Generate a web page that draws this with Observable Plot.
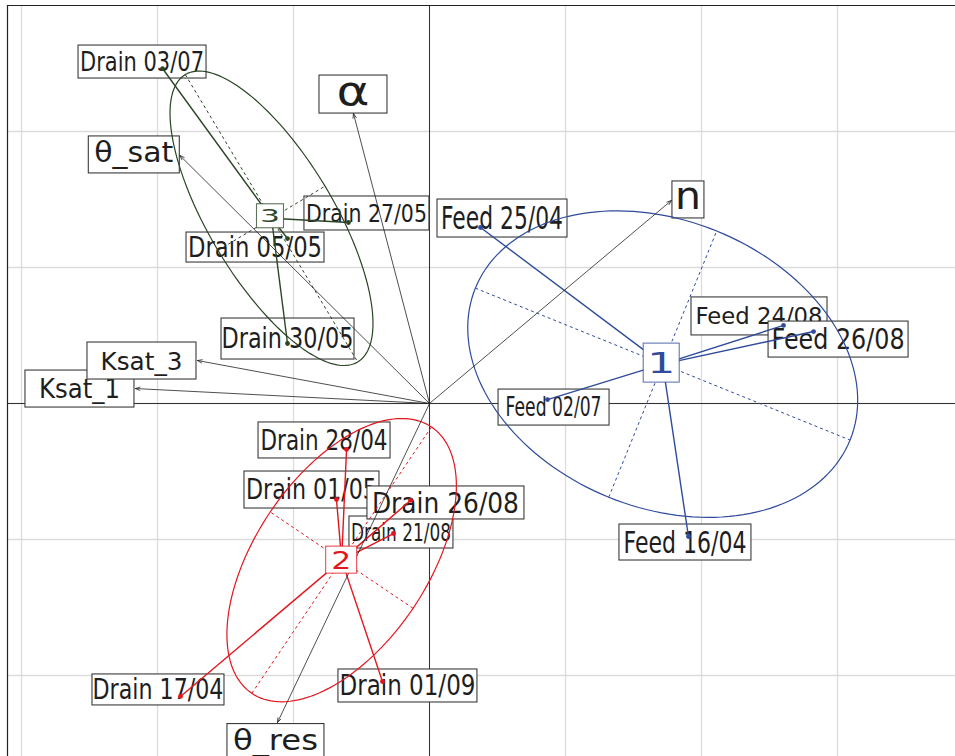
<!DOCTYPE html>
<html>
<head>
<meta charset="utf-8">
<script src="https://cdn.jsdelivr.net/npm/d3@7"></script>
<script src="https://cdn.jsdelivr.net/npm/@observablehq/plot@0.6"></script>
<style>
  html, body { margin: 0; padding: 0; background: #fff; overflow: hidden; }
  #chart svg { display: block; }
</style>
</head>
<body>
<div id="chart"></div>
<script>
// ---------------- data ----------------
const groups = ["1", "2", "3"];
const groupColors = ["#2f4b9b", "#e3161e", "#2b4526"];

const obsLabels = [
  "Feed 16/04", "Feed 25/04", "Feed 02/07", "Feed 24/08", "Feed 26/08",
  "Drain 17/04", "Drain 28/04", "Drain 01/05", "Drain 21/08", "Drain 26/08", "Drain 01/09",
  "Drain 05/05", "Drain 27/05", "Drain 30/05", "Drain 03/07"
];
const obsGroup = ["1", "1", "1", "1", "1", "2", "2", "2", "2", "2", "2", "3", "3", "3", "3"];
const obsX = [1.904, 0.375, 0.868, 2.603, 2.824, -1.831, -0.610, -0.684, -0.265, -0.140, -0.346, -1.044, -0.596, -1.044, -1.963];
const obsY = [-0.978, 1.294, 0.029, 0.574, 0.529, -2.154, -0.338, -0.706, -0.956, -0.713, -2.044, 1.213, 1.331, 0.441, 2.463];

const varLabels = ["Ksat_1", "Ksat_3", "θ_sat", "θ_res", "α", "n"];
const varX = [-2.162, -1.706, -1.836, -1.118, -0.559, 1.779];
const varY = [0.110, 0.316, 1.824, -2.346, 2.132, 1.493];

const gridX = [-3, -2, -1, 0, 1, 2, 3];
const gridY = [-2, -1, 0, 1, 2];

// ---------------- layout / style (pixels) ----------------
// label: [dx, dy, boxWidth, boxHeight, fontSize, textLength]
const labelLayout = {
  "Feed 16/04": [-3, 6, 132, 36, 30, 123],
  "Feed 25/04": [22, -9, 130, 38, 31.5, 122],
  "Feed 02/07": [6.5, 8, 111, 36, 26, 96],
  "Feed 24/08": [-24, -9, 136, 38, 23, 127],
  "Feed 26/08": [25, 8, 140, 36, 27.5, 133],
  "Drain 17/04": [-22, -6.5, 132, 31, 27.5, 131],
  "Drain 28/04": [-22, -9, 132, 36, 27.5, 127],
  "Drain 01/05": [-24.5, -9.5, 135, 37, 27.5, 131],
  "Drain 21/08": [8, -1, 104, 32, 25, 100],
  "Drain 26/08": [35.5, 2.5, 157, 33, 29, 147],
  "Drain 01/09": [25.5, 4.5, 139, 33, 27.5, 136],
  "Drain 05/05": [-32, 9, 138, 30, 27.5, 134],
  "Drain 27/05": [18.5, -9, 125, 34, 25, 121],
  "Drain 30/05": [0.5, -4.5, 133, 41, 27.5, 132],
  "Drain 03/07": [-20, -6.5, 128, 33, 26, 124],
  "Ksat_1": [-55.5, 0.5, 109, 37, 26, 81],
  "Ksat_3": [-55.5, 0.5, 109, 37, 25.5, 82],
  "θ_sat": [-45.5, -0.5, 91, 37, 29, 79],
  "θ_res": [-1.5, 20, 97, 37, 29, 85],
  "α": [0, -19, 68, 38, 40, 33],
  "n": [17, -0.5, 32, 37, 37, 26],
  "1": [-1, -1, 36, 39, 29, 28],
  "2": [0, 0, 31, 27, 25, 20],
  "3": [-1, -2, 27, 24, 18, 20]
};

const unitPx = 136;          // one grid step in pixels
const originPx = [429, 403]; // where (0,0) sits
const W = 955, H = 756, mL = 7, mT = 5;
const xDomain = [-(originPx[0] - mL) / unitPx, (W - originPx[0]) / unitPx];
const yDomain = [-(H - originPx[1]) / unitPx, (originPx[1] - mT) / unitPx];

// ---------------- derived ----------------
const colorOf = Object.fromEntries(groups.map((g, i) => [g, groupColors[i]]));
const obs = obsLabels.map((label, i) => ({label, group: obsGroup[i], x: obsX[i], y: obsY[i]}));
const vars = varLabels.map((label, i) => ({label, x: varX[i], y: varY[i]}));

const cEll = 1.5;
const stats = groups.map(g => {
  const pts = obs.filter(d => d.group === g);
  const mx = d3.mean(pts, d => d.x), my = d3.mean(pts, d => d.y);
  const vx = d3.mean(pts, d => (d.x - mx) ** 2);
  const vy = d3.mean(pts, d => (d.y - my) ** 2);
  const cxy = d3.mean(pts, d => (d.x - mx) * (d.y - my));
  const tr = (vx + vy) / 2, disc = Math.sqrt(((vx - vy) / 2) ** 2 + cxy ** 2);
  const a = cEll * Math.sqrt(tr + disc), b = cEll * Math.sqrt(Math.max(0, tr - disc));
  const th = 0.5 * Math.atan2(2 * cxy, vx - vy);
  return {group: g, x: mx, y: my, a, b, th};
});
const statOf = Object.fromEntries(stats.map(s => [s.group, s]));

const ellipsePts = [];
for (const s of stats) {
  const N = 160;
  for (let k = 0; k < N; k++) {
    const t = 2 * Math.PI * k / N;
    ellipsePts.push({
      group: s.group,
      x: s.x + s.a * Math.cos(t) * Math.cos(s.th) - s.b * Math.sin(t) * Math.sin(s.th),
      y: s.y + s.a * Math.cos(t) * Math.sin(s.th) + s.b * Math.sin(t) * Math.cos(s.th)
    });
  }
}
const ellAxes = stats.flatMap(s => [
  {group: s.group, x1: s.x - s.a * Math.cos(s.th), y1: s.y - s.a * Math.sin(s.th), x2: s.x + s.a * Math.cos(s.th), y2: s.y + s.a * Math.sin(s.th)},
  {group: s.group, x1: s.x + s.b * Math.sin(s.th), y1: s.y - s.b * Math.cos(s.th), x2: s.x - s.b * Math.sin(s.th), y2: s.y + s.b * Math.cos(s.th)}
]);
const stars = obs.map(d => ({group: d.group, x1: statOf[d.group].x, y1: statOf[d.group].y, x2: d.x, y2: d.y}));

// custom mark: boxed labels positioned through Plot's scales
function boxedLabels(items) {
  return (index, scales) => {
    const g = d3.create("svg:g").attr("font-family", "'DejaVu Sans', sans-serif");
    for (const d of items) {
      const L = labelLayout[d.label];
      const cx = scales.x(d.x) + L[0], cy = scales.y(d.y) + L[1];
      g.append("rect")
        .attr("x", cx - L[2] / 2).attr("y", cy - L[3] / 2)
        .attr("width", L[2]).attr("height", L[3])
        .attr("fill", "white")
        .attr("stroke", d.stroke || "#3a3a3a")
        .attr("stroke-opacity", d.strokeOpacity ?? 1)
        .attr("stroke-width", 1.1);
      const k = /[A-Z0-9]/.test(d.label) ? 0.36 : (d.label.includes("θ") ? 0.27 : 0.27);
      g.append("text")
        .attr("x", cx).attr("y", cy + k * L[4])
        .attr("text-anchor", "middle")
        .attr("font-size", L[4])
        .attr("textLength", L[5])
        .attr("lengthAdjust", "spacingAndGlyphs")
        .attr("fill", d.fill || "#1e1e1e")
        .text(d.label);
    }
    return g.node();
  };
}

const centerItems = stats.map(s => ({label: s.group, x: s.x, y: s.y, stroke: colorOf[s.group], strokeOpacity: 0.75, fill: colorOf[s.group]}));

const chart = Plot.plot({
  width: W, height: H,
  marginLeft: mL, marginTop: mT, marginRight: 0, marginBottom: 0,
  x: {domain: xDomain, axis: null},
  y: {domain: yDomain, axis: null},
  color: {domain: groups, range: groupColors},
  style: {fontFamily: "'DejaVu Sans', sans-serif", background: "white", overflow: "hidden"},
  marks: [
    Plot.ruleX(gridX, {stroke: "#dcdcdc", strokeWidth: 1.3}),
    Plot.ruleY(gridY, {stroke: "#dcdcdc", strokeWidth: 1.3}),
    Plot.ruleX([0], {stroke: "#333", strokeWidth: 1}),
    Plot.ruleY([0], {stroke: "#333", strokeWidth: 1}),
    Plot.ruleX([xDomain[0]], {stroke: "#222", strokeWidth: 1.2}),
    Plot.ruleY([yDomain[1]], {stroke: "#222", strokeWidth: 1.2}),
    boxedLabels(obs),
    boxedLabels(vars),
    Plot.link(ellAxes, {x1: "x1", y1: "y1", x2: "x2", y2: "y2", stroke: "group", strokeWidth: 1, strokeDasharray: "3,3"}),
    Plot.line(ellipsePts, {x: "x", y: "y", z: "group", stroke: "group", strokeWidth: 1.2, curve: "linear-closed"}),
    Plot.link(stars, {x1: "x1", y1: "y1", x2: "x2", y2: "y2", stroke: "group", strokeWidth: 1.4}),
    Plot.arrow(vars, {x1: 0, y1: 0, x2: "x", y2: "y", stroke: "#222", strokeWidth: 0.8, headLength: 9, headAngle: 40}),
    Plot.dot(obs, {x: "x", y: "y", r: 2.4, fill: "group", stroke: "none"}),
    boxedLabels(centerItems)
  ]
});
document.getElementById("chart").appendChild(chart);
</script>
</body>
</html>
